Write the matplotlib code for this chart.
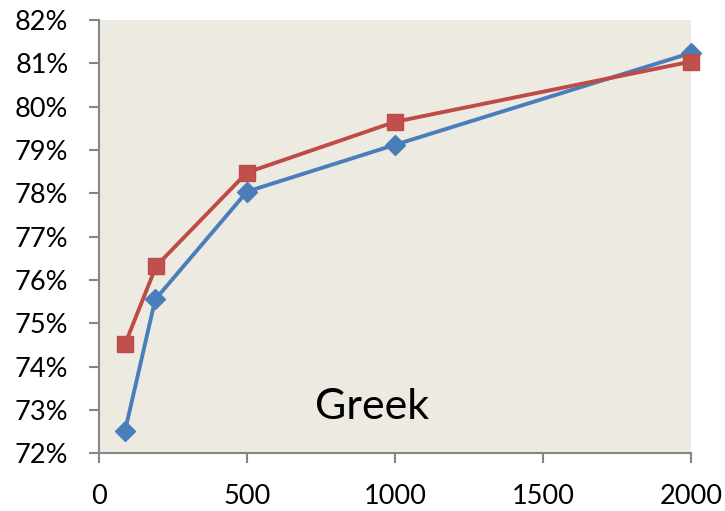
import matplotlib
matplotlib.use("Agg")
import matplotlib.pyplot as plt
from matplotlib.ticker import FuncFormatter

plt.rcParams['font.family'] = ['Lato', 'DejaVu Sans']

# Training set size vs. accuracy (Greek)
sizes_a = [88, 190, 500, 1000, 2000]
acc_a = [72.52, 75.55, 78.04, 79.12, 81.24]

sizes_b = [88, 193, 500, 1000, 2000]
acc_b = [74.52, 76.32, 78.48, 79.65, 81.04]

x_ticks = [0, 500, 1000, 1500, 2000]
y_ticks = list(range(72, 83))

fig = plt.figure(figsize=(7.25, 5.11), dpi=100)
ax = fig.add_axes([99/725, 1 - 453.3/511, 592/725, 433.3/511])
ax.set_facecolor('#EDEBE1')

ax.plot(sizes_a, acc_a, color='#4A7EBB', lw=2.8, marker='D', ms=10,
        mfc='#4A7EBB', mec='#4A7EBB', zorder=3, clip_on=False)
ax.plot(sizes_b, acc_b, color='#BE4B48', lw=2.8, marker='s', ms=11.5,
        mfc='#C0504D', mec='#BE4B48', zorder=4, clip_on=False)

ax.set_xlim(0, 2000)
ax.set_ylim(72, 82)
ax.set_xticks(x_ticks)
ax.set_yticks(y_ticks)
ax.yaxis.set_major_formatter(FuncFormatter(lambda v, p: f"{v:.0f}%"))

for side in ('top', 'right'):
    ax.spines[side].set_visible(False)
for side in ('left', 'bottom'):
    ax.spines[side].set_color('#868686')
    ax.spines[side].set_linewidth(1.5)

ax.tick_params(axis='both', direction='out', length=7, width=1.5,
               color='#868686', labelsize=19.5, labelcolor='black')
ax.tick_params(axis='y', pad=15)
ax.tick_params(axis='x', pad=15)

ax.text(0.461, 0.107, 'Greek', transform=ax.transAxes, fontsize=31,
        ha='center', va='center', color='black')

fig.savefig('out.png', dpi=100)
